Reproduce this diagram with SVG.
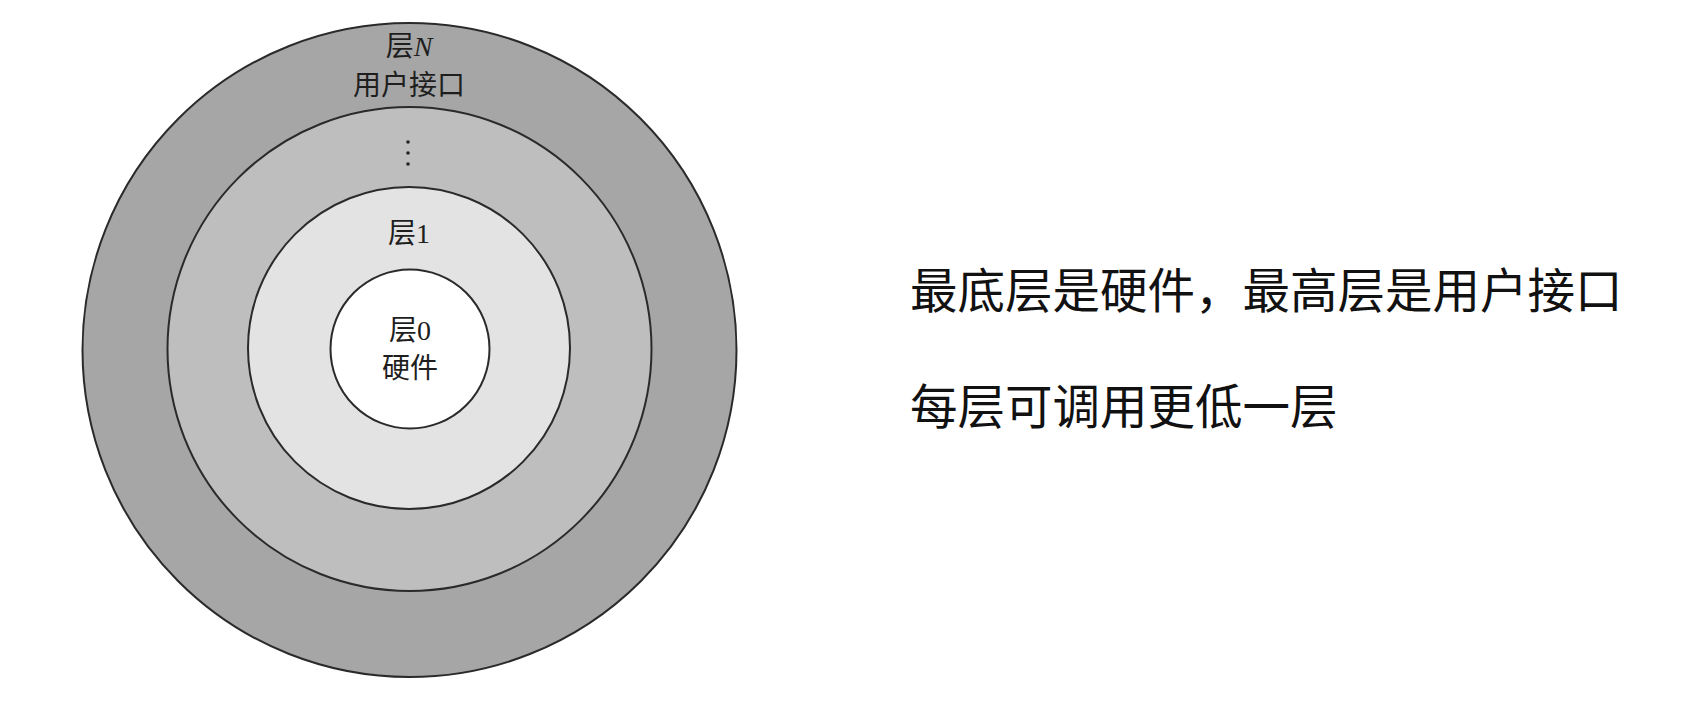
<svg xmlns="http://www.w3.org/2000/svg" width="1689" height="705" viewBox="0 0 1689 705">
<style>
.ring{stroke:#2a2a2a;stroke-width:2}
.lbl{font-family:"Noto Sans CJK SC","Liberation Serif",serif;font-size:28px;fill:#1e1e1e;text-anchor:middle}
.num{font-family:"Liberation Serif",serif}
.note{font-family:"Noto Sans CJK SC",sans-serif;font-size:47.5px;fill:#111}
</style>
<rect width="1689" height="705" fill="#ffffff"/>
<g id="layerN">
<circle class="ring" cx="409.5" cy="350" r="327" fill="#a6a6a6"/>
<text class="lbl" x="409" y="56">层<tspan class="num" font-style="italic">N</tspan></text>
<text class="lbl" x="409" y="95">用户接口</text>
</g>
<g id="layerMid">
<circle class="ring" cx="409.5" cy="349" r="242" fill="#bebebe"/>
<g fill="#222"><circle cx="408" cy="142" r="1.8"/><circle cx="408" cy="153" r="1.8"/><circle cx="408" cy="164" r="1.8"/></g>
</g>
<g id="layer1">
<circle class="ring" cx="409" cy="348" r="161" fill="#e3e3e3"/>
<text class="lbl" x="409" y="243">层<tspan class="num">1</tspan></text>
</g>
<g id="layer0">
<circle class="ring" cx="410" cy="349" r="79.5" fill="#ffffff"/>
<text class="lbl" x="410" y="340">层<tspan class="num">0</tspan></text>
<text class="lbl" x="410" y="378">硬件</text>
</g>
<g id="connectors"></g>
<g id="notes">
<text class="note" x="910" y="308">最底层是硬件，最高层是用户接口</text>
<text class="note" x="910" y="424">每层可调用更低一层</text>
</g>
</svg>
